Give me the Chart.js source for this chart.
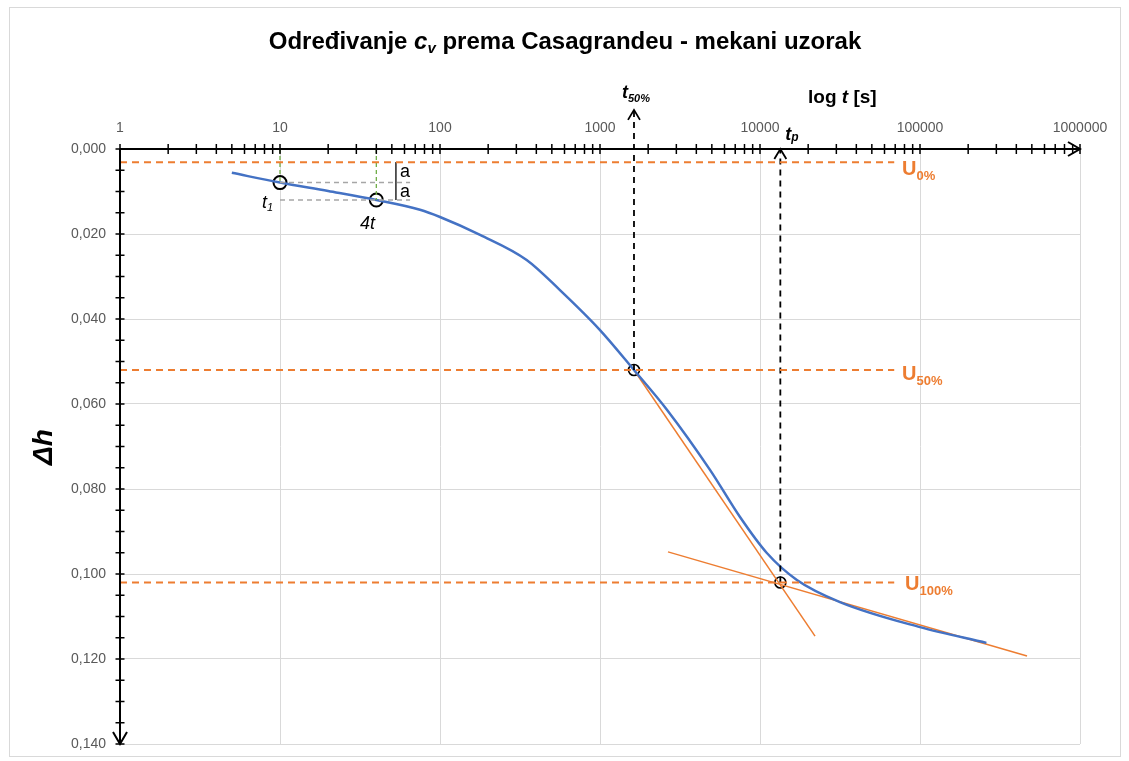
<!DOCTYPE html>
<html><head><meta charset="utf-8">
<script src="https://cdn.jsdelivr.net/npm/chart.js@4.4.1/dist/chart.umd.min.js"></script>
<style>html,body{margin:0;padding:0;background:#fff}canvas{display:block}</style>
</head><body><canvas id="c" width="1129" height="761"></canvas>
<script>
// ---- data ----
const curveT  = [5, 10, 20, 40, 75, 100, 178, 348, 562, 1000, 1631, 2627, 4870, 7500, 11000, 17000, 31600, 100000, 260000];
const curveDh = [0.0056, 0.0079, 0.0099, 0.0120, 0.0143, 0.0160, 0.0202, 0.0261, 0.0332, 0.0426, 0.0520, 0.0614, 0.0755, 0.0866, 0.0950, 0.1014, 0.1066, 0.1125, 0.1162];
const steepT = [1631, 22080];
const steepDh = [0.052, 0.1146];
const flatT = [2661, 466600];
const flatDh = [0.0948, 0.1193];
const U0 = 0.0031, U50 = 0.052, U100 = 0.102;
const uLineT = [1, 69000];
const t1 = 10, t1Dh = 0.0079;
const t4 = 40, t4Dh = 0.0120;
const t50 = 1631;
const tp = 13400;
const t50ArrowDh = -0.0092;
const grayT = [10, 65];
const bracketT = 53;
const xTickValues = [1, 10, 100, 1000, 10000, 100000, 1000000];
const xTickLabels = ['1', '10', '100', '1000', '10000', '100000', '1000000'];
const yTickValues = [0, 0.02, 0.04, 0.06, 0.08, 0.10, 0.12, 0.14];
const yTickLabels = ['0,000', '0,020', '0,040', '0,060', '0,080', '0,100', '0,120', '0,140'];

const ORANGE = '#ED7D31', BLUE = '#4472C4', GREEN = '#70AD47', GRAY = '#A6A6A6';
const pts = (xs, ys) => xs.map((x, i) => ({x: x, y: ys[i]}));
const lineDs = (data, color, width, dash, extra) => Object.assign({
  type: 'line', data: data, borderColor: color, borderWidth: width, borderDash: dash || [],
  pointRadius: 0, pointHoverRadius: 0, fill: false, showLine: true, tension: 0
}, extra || {});

const datasets = [
  lineDs(pts(uLineT, [U0, U0]), ORANGE, 2, [7, 5]),
  lineDs(pts(uLineT, [U50, U50]), ORANGE, 2, [7, 5]),
  lineDs(pts(uLineT, [U100, U100]), ORANGE, 2, [7, 5]),
  lineDs(pts([t1, t1], [0, t1Dh]), GREEN, 1.3, [4, 3]),
  lineDs(pts([t4, t4], [0, t4Dh]), GREEN, 1.3, [4, 3]),
  lineDs(pts(grayT, [t1Dh, t1Dh]), GRAY, 1.5, [5, 4]),
  lineDs(pts(grayT, [t4Dh, t4Dh]), GRAY, 1.5, [5, 4]),
  lineDs(pts([bracketT, bracketT], [U0, t4Dh]), '#404040', 1, []),
  lineDs(pts([t50, t50], [U50, t50ArrowDh]), '#000', 1.8, [6, 5], {clip: false}),
  lineDs(pts([tp, tp], [U100, 0]), '#000', 1.8, [6, 5], {clip: false}),
  lineDs(pts(curveT, curveDh), BLUE, 2.5, [], {cubicInterpolationMode: 'monotone'}),
  lineDs(pts(steepT, steepDh), ORANGE, 1.5, []),
  lineDs(pts(flatT, flatDh), ORANGE, 1.5, []),
  {type: 'scatter', data: pts([t1, t4], [t1Dh, t4Dh]), pointRadius: 6.5, pointBorderWidth: 2,
   pointBackgroundColor: '#fff', pointBorderColor: '#000', showLine: false},
  {type: 'scatter', data: pts([t50, tp], [U50, U100]), pointRadius: 5.5, pointBorderWidth: 1.6,
   pointBackgroundColor: 'rgba(255,255,255,0)', pointBorderColor: '#000', showLine: false}
];

function runs(ctx, x, y, parts, align, color) {
  let total = 0;
  parts.forEach(p => { ctx.font = p.font; total += ctx.measureText(p.t).width; });
  let cx = align === 'center' ? x - total / 2 : x;
  ctx.fillStyle = color;
  ctx.textBaseline = 'alphabetic';
  ctx.textAlign = 'left';
  parts.forEach(p => {
    ctx.font = p.font;
    ctx.fillText(p.t, cx, y + (p.dy || 0));
    cx += ctx.measureText(p.t).width;
  });
}

const F = '"Liberation Sans", Arial, sans-serif';
const deco = {
  id: 'deco',
  afterDraw(chart) {
    const ctx = chart.ctx, xs = chart.scales.x, ys = chart.scales.y;
    const X = v => xs.getPixelForValue(v), Y = v => ys.getPixelForValue(v);
    const x0 = X(1), x1 = X(1e6), y0 = Y(0), y1 = Y(0.14);
    ctx.save();
    // outer border
    ctx.strokeStyle = '#D9D9D9'; ctx.lineWidth = 1;
    ctx.strokeRect(9.5, 7.5, 1111, 749);
    // axes
    ctx.strokeStyle = '#000'; ctx.lineWidth = 2; ctx.setLineDash([]);
    ctx.beginPath(); ctx.moveTo(x0, y0); ctx.lineTo(x1, y0); ctx.stroke();
    ctx.beginPath(); ctx.moveTo(x0, y0); ctx.lineTo(x0, y1); ctx.stroke();
    // arrows on axes
    ctx.beginPath(); ctx.moveTo(x1 - 12, y0 - 7); ctx.lineTo(x1, y0); ctx.lineTo(x1 - 12, y0 + 7); ctx.stroke();
    ctx.beginPath(); ctx.moveTo(x0 - 7, y1 - 12); ctx.lineTo(x0, y1); ctx.lineTo(x0 + 7, y1 - 12); ctx.stroke();
    // x ticks
    ctx.lineWidth = 1.5;
    for (let d = 1; d < 1e6; d *= 10) {
      for (let m = 1; m <= 9; m++) {
        const px = X(m * d);
        ctx.beginPath(); ctx.moveTo(px, y0 - 5); ctx.lineTo(px, y0 + 5); ctx.stroke();
      }
    }
    ctx.beginPath(); ctx.moveTo(x1, y0 - 5); ctx.lineTo(x1, y0 + 5); ctx.stroke();
    // y ticks
    for (let i = 0; i <= 28; i++) {
      const py = Y(i * 0.005);
      ctx.beginPath(); ctx.moveTo(x0 - 4.5, py); ctx.lineTo(x0 + 4.5, py); ctx.stroke();
    }
    // arrows on dashed verticals
    ctx.lineWidth = 1.8;
    let ax = X(t50), ay = Y(t50ArrowDh);
    ctx.beginPath(); ctx.moveTo(ax - 6, ay + 10); ctx.lineTo(ax, ay); ctx.lineTo(ax + 6, ay + 10); ctx.stroke();
    ax = X(tp); ay = Y(0);
    ctx.beginPath(); ctx.moveTo(ax - 6, ay + 10); ctx.lineTo(ax, ay); ctx.lineTo(ax + 6, ay + 10); ctx.stroke();
    // tick labels
    ctx.fillStyle = '#595959'; ctx.font = '14px ' + F; ctx.textBaseline = 'middle';
    ctx.textAlign = 'center';
    xTickValues.forEach((v, i) => ctx.fillText(xTickLabels[i], X(v), y0 - 21));
    ctx.textAlign = 'right';
    yTickValues.forEach((v, i) => ctx.fillText(yTickLabels[i], x0 - 14, Y(v)));
    // title
    runs(ctx, 565, 49, [
      {t: 'Određivanje ', font: 'bold 24px ' + F},
      {t: 'c', font: 'italic bold 24px ' + F},
      {t: 'v', font: 'italic bold 15px ' + F, dy: 4},
      {t: ' prema Casagrandeu - mekani uzorak', font: 'bold 24px ' + F}
    ], 'center', '#000');
    // axis title x
    runs(ctx, 808, 103, [
      {t: 'log ', font: 'bold 19px ' + F},
      {t: 't', font: 'italic bold 19px ' + F},
      {t: ' [s]', font: 'bold 19px ' + F}
    ], 'left', '#000');
    // Δh
    ctx.save();
    ctx.translate(52, 447); ctx.rotate(-Math.PI / 2);
    runs(ctx, 0, 0, [{t: 'Δh', font: 'italic bold 28px ' + F}], 'center', '#000');
    ctx.restore();
    // t50%, tp
    runs(ctx, X(t50) - 12, 98, [
      {t: 't', font: 'italic bold 18px ' + F},
      {t: '50%', font: 'italic bold 11px ' + F, dy: 4}
    ], 'left', '#000');
    runs(ctx, X(tp) + 5, 140, [
      {t: 't', font: 'italic bold 18px ' + F},
      {t: 'p', font: 'italic bold 12px ' + F, dy: 1}
    ], 'left', '#000');
    // U labels
    runs(ctx, 902, 175, [
      {t: 'U', font: 'bold 20px ' + F},
      {t: '0%', font: 'bold 13px ' + F, dy: 5}
    ], 'left', ORANGE);
    runs(ctx, 902, 380, [
      {t: 'U', font: 'bold 20px ' + F},
      {t: '50%', font: 'bold 13px ' + F, dy: 5}
    ], 'left', ORANGE);
    runs(ctx, 905, 590, [
      {t: 'U', font: 'bold 20px ' + F},
      {t: '100%', font: 'bold 13px ' + F, dy: 5}
    ], 'left', ORANGE);
    // t1, 4t, a
    runs(ctx, 262, 208, [
      {t: 't', font: 'italic 18px ' + F},
      {t: '1', font: 'italic 11px ' + F, dy: 3}
    ], 'left', '#000');
    runs(ctx, 360, 229, [{t: '4t', font: 'italic 18px ' + F}], 'left', '#000');
    runs(ctx, 400, 177, [{t: 'a', font: '18px ' + F}], 'left', '#000');
    runs(ctx, 400, 197, [{t: 'a', font: '18px ' + F}], 'left', '#000');
    ctx.restore();
  }
};

new Chart(document.getElementById('c'), {
  type: 'scatter',
  data: {datasets: datasets},
  options: {
    responsive: false, animation: false, devicePixelRatio: 1,
    layout: {padding: {left: 120, top: 149, right: 49, bottom: 17}},
    plugins: {legend: {display: false}, tooltip: {enabled: false}, title: {display: false}},
    scales: {
      x: {
        type: 'logarithmic', position: 'top', min: 1, max: 1e6,
        afterBuildTicks: s => { s.ticks = xTickValues.map(v => ({value: v})); },
        afterFit: s => { s.height = 0; },
        ticks: {display: false},
        grid: {color: '#D9D9D9', lineWidth: 1, drawTicks: false},
        border: {display: false}
      },
      y: {
        type: 'linear', reverse: true, min: 0, max: 0.14,
        afterBuildTicks: s => { s.ticks = yTickValues.map(v => ({value: v})); },
        afterFit: s => { s.width = 0; },
        ticks: {display: false},
        grid: {color: '#D9D9D9', lineWidth: 1, drawTicks: false},
        border: {display: false}
      }
    }
  },
  plugins: [deco]
});
</script>
</body></html>
